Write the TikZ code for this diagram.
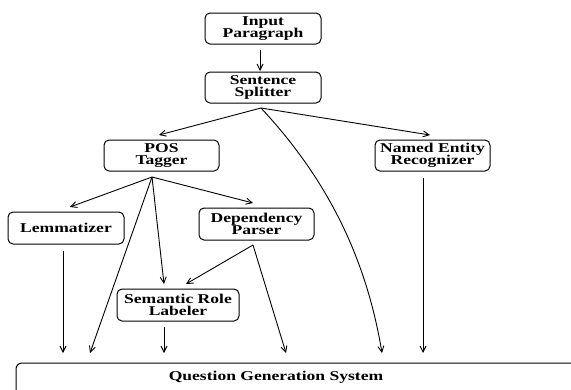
\documentclass[tikz,border=0pt]{standalone}
\usepackage{fontspec}
\setmainfont{Liberation Serif}[FakeStretch=1.3]
\usetikzlibrary{arrows.meta}
\begin{document}
\begin{tikzpicture}[x=1pt,y=-1pt,
  module/.style={draw, rounded corners=5pt, line width=1pt, inner sep=0pt,
    align=center, minimum height=31pt,
    font=\fontsize{13.5}{12.5}\selectfont\bfseries},
  flow/.style={line width=0.9pt, -{Straight Barb[length=6pt,width=6pt,line width=0.9pt]}}]
\useasboundingbox (0,0) rectangle (571,389);

% processing modules
\node[module, minimum width=116pt] (inp) at (263,28.5) {Input\\Paragraph};
\node[module, minimum width=116pt] (split) at (263,87.5) {Sentence\\Splitter};
\node[module, minimum width=115pt] (pos) at (161.5,155.5) {POS\\Tagger};
\node[module, minimum width=115pt] (ner) at (432.5,155.5) {Named Entity\\Recognizer};
\node[module, minimum width=116pt, minimum height=32pt] (lem) at (66,228) {Lemmatizer};
\node[module, minimum width=115pt, minimum height=32pt] (dep) at (256.5,224) {Dependency\\Parser};
\node[module, minimum width=122pt, minimum height=32pt] (srl) at (178,305) {Semantic Role\\Labeler};

% output system box, running past the right and bottom edges
\draw[line width=1pt, rounded corners=6pt] (16,400) -- (16,363) -- (590,363);
\node[font=\fontsize{13.5}{12.5}\selectfont\bfseries] (qgs) at (276,377) {Question Generation System};

% connector end points
\coordinate (splitout) at (261,108);
\coordinate (posout) at (152,177);
\coordinate (depout) at (253,245);
\coordinate (qa) at (63,353);
\coordinate (qb) at (90,353);
\coordinate (qc) at (164,353);
\coordinate (qd) at (286,353);
\coordinate (qe) at (382,353);
\coordinate (qf) at (423,353);

% connectors
\draw[flow] (inp.south -| 260,0) ++(0,5) -- (260,71);
\draw[flow] (splitout) -- (159,135);
\draw[flow] (splitout) -- (430,135);
\draw[flow] (splitout) .. controls (331,183) and (367,263) .. (qe);
\draw[flow] (ner.south -| qf) ++(0,6) -- (qf);
\draw[flow] (posout) -- (70,207);
\draw[flow] (posout) -- (253,203);
\draw[flow] (posout) -- (164,284);
\draw[flow] (posout) -- (qb);
\draw[flow] (lem.south -| qa) ++(0,6) -- (qa);
\draw[flow] (srl.south -| qc) ++(0,5) -- (qc);
\draw[flow] (depout) -- (186,284);
\draw[flow] (depout) -- (qd);
\end{tikzpicture}
\end{document}
